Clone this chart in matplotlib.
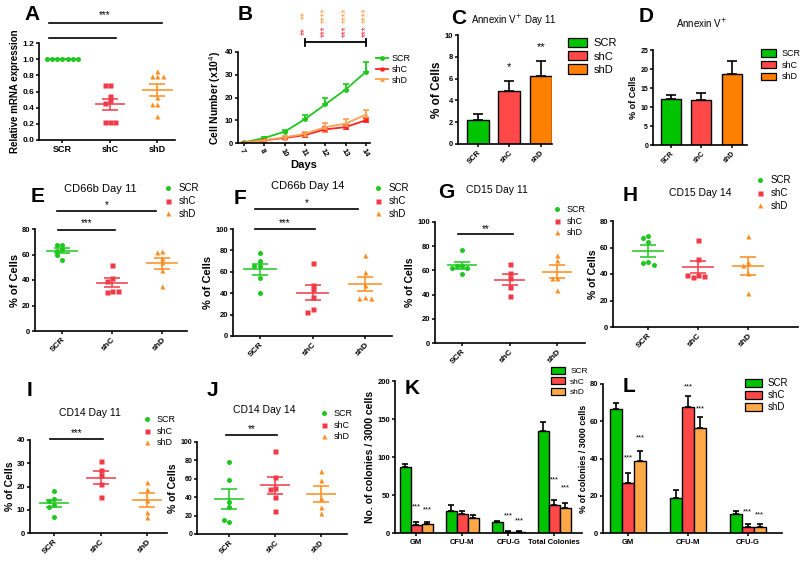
import numpy as np
import matplotlib
matplotlib.use("Agg")
import matplotlib.pyplot as plt
from matplotlib.patches import Patch
from matplotlib.lines import Line2D

plt.rcParams["font.family"] = ["Liberation Sans", "DejaVu Sans"]
plt.rcParams["font.weight"] = "normal"

# ============================================================
# Datos
# ============================================================
grupos = ["SCR", "shC", "shD"]

# A - expresion relativa de ARNm
a_scr = [1.0, 1.0, 1.0, 1.0, 1.0, 1.0, 1.0]
a_shc = [0.68, 0.68, 0.55, 0.50, 0.46, 0.22, 0.22, 0.22]
a_shd = [0.85, 0.79, 0.79, 0.79, 0.53, 0.45, 0.45, 0.30]

# B - curva de crecimiento
dias = ["7", "8", "10", "11", "12", "13", "14"]
b_scr = [0.3, 2.2, 5.0, 10.5, 17.0, 23.5, 31.3]
b_scr_err = [0.2, 0.3, 0.6, 1.6, 3.0, 2.5, 4.4]
b_shc = [0.2, 1.2, 2.2, 3.5, 6.0, 7.0, 10.0]
b_shc_err = [0.1, 0.2, 0.4, 0.7, 1.0, 0.9, 0.8]
b_shd = [0.2, 1.2, 2.5, 4.0, 7.0, 8.5, 12.5]
b_shd_err = [0.1, 0.2, 0.5, 1.0, 2.0, 2.0, 2.2]

# C y D - Annexin V
c_media = [2.2, 4.9, 6.2]
c_err = [0.55, 0.9, 1.45]
d_media = [12.0, 11.9, 18.6]
d_err = [1.1, 1.9, 3.6]

# E - CD66b dia 11
e_scr = [67.6, 67.6, 64.7, 62.6, 60.0, 55.8]
e_shc = [51.8, 41.8, 39.5, 31.6, 30.8, 31.6]
e_shd = [62.5, 62.0, 57.0, 54.0, 48.0, 35.0]

# F - CD66b dia 14
f_scr = [78.0, 70.5, 65.5, 65.5, 54.0, 40.4]
f_shc = [68.0, 47.6, 43.6, 36.7, 25.0, 22.3]
f_shd = [76.0, 60.0, 47.6, 36.7, 35.4, 35.4]

# G - CD15 dia 11
g_scr = [77.0, 64.0, 63.5, 62.0, 62.0, 57.0]
g_shc = [65.0, 58.0, 54.0, 46.0, 39.0]
g_shd = [73.0, 69.0, 54.0, 54.0, 44.0]

# H - CD15 dia 14
h_scr = [69.0, 67.0, 64.0, 49.0, 48.0, 47.0]
h_shc = [65.4, 51.3, 39.0, 37.7, 38.5, 39.5]
h_shd = [68.4, 49.0, 47.0, 40.7, 25.7]

# I - CD14 dia 11
i_scr = [18.0, 14.5, 13.8, 12.0, 11.2, 6.8]
i_shc = [30.9, 26.9, 24.9, 21.2, 15.3]
i_shd = [22.0, 19.1, 14.0, 9.0, 6.8]

# J - CD14 dia 14
j_scr = [78.0, 58.8, 34.3, 29.2, 13.4, 14.8]
j_shc = [90.6, 62.0, 50.5, 48.7, 40.4, 25.3]
j_shd = [68.6, 58.5, 39.4, 29.6, 23.1]

# K - colonias
k_cats = ["GM", "CFU-M", "CFU-G", "Total Colonies"]
k_scr = [86.7, 28.4, 14.4, 134.4]
k_scr_err = [4.4, 8.8, 1.0, 11.4]
k_shc = [10.5, 25.0, 1.5, 37.4]
k_shc_err = [3.5, 4.0, 0.6, 6.5]
k_shd = [12.0, 19.7, 1.5, 32.9]
k_shd_err = [2.0, 4.5, 0.6, 6.5]

# L - % de colonias
l_cats = ["GM", "CFU-M", "CFU-G"]
l_scr = [66.4, 18.7, 10.4]
l_scr_err = [3.6, 4.6, 1.4]
l_shc = [26.9, 67.8, 3.2]
l_shc_err = [5.4, 6.0, 1.5]
l_shd = [38.7, 56.3, 3.2]
l_shd_err = [5.2, 6.1, 1.5]

# ============================================================
# Estilo
# ============================================================
verde = "#1EC81E"
rojo = "#F03A48"
naranja = "#FF8C1E"
verde_bar = "#00C400"
rojo_bar = "#FF4848"
naranja_bar = "#FF8000"
naranja_claro = "#FFA848"
colores = [verde, rojo, naranja]
marcadores = ["o", "s", "^"]

W, H = 800, 561
fig = plt.figure(figsize=(8.0, 5.61), dpi=100)


def px(l, t, r, b):
    return [l / W, 1 - b / H, (r - l) / W, (b - t) / H]


def ft(x, y, s, **kw):
    kw.setdefault("ha", "center")
    kw.setdefault("va", "center")
    fig.text(x / W, 1 - y / H, s, **kw)


def estilo(ax, ylim, yticks, fs=5.5):
    for lado in ["top", "right"]:
        ax.spines[lado].set_visible(False)
    for lado in ["left", "bottom"]:
        ax.spines[lado].set_linewidth(1.2)
    ax.set_ylim(*ylim)
    ax.set_yticks(yticks)
    ax.tick_params(direction="out", length=2.5, width=1.1, labelsize=fs, pad=1)
    for t in ax.get_yticklabels():
        t.set_fontweight("bold")


def etiqueta_y(ax, txt, fs=7.5):
    ax.set_ylabel(txt, fontsize=fs, fontweight="bold", labelpad=1.5)


def dispersar(vals, tol, paso):
    offs = []
    orden = [0, -1, 1, -2, 2, -3, 3, -4, 4]
    for j, v in enumerate(vals):
        n = sum(1 for w in vals[:j] if abs(w - v) < tol)
        offs.append(orden[n] * paso)
    return np.array(offs)


def sig(ax, x1, x2, y, txt, ytxt, fs=7):
    ax.plot([x1, x2], [y, y], color="k", lw=1.2, clip_on=False)
    ax.text((x1 + x2) / 2, ytxt, txt, ha="center", va="center", fontsize=fs)


def panel_puntos(rect, datos, ylim, yticks, xlim, rot=45, fs=5.5, ms=3.6):
    ax = fig.add_axes(px(*rect))
    rango = ylim[1] - ylim[0]
    for i, vals in enumerate(datos):
        vals = list(vals)
        x = i + dispersar(vals, 0.035 * rango, 0.11)
        ax.plot(x, vals, ls="none", marker=marcadores[i], color=colores[i],
                ms=ms, mec="none", clip_on=False)
        m = np.mean(vals)
        sem = np.std(vals, ddof=1) / np.sqrt(len(vals))
        ax.plot([i - 0.3, i + 0.3], [m, m], color=colores[i], lw=1.3, alpha=0.85)
        ax.errorbar(i, m, yerr=sem, color=colores[i], capsize=6, lw=1.3,
                    capthick=1.3, fmt="none", alpha=0.85)
    ax.set_xlim(*xlim)
    ax.set_xticks(range(3))
    estilo(ax, ylim, yticks, fs)
    if rot:
        ax.set_xticklabels(grupos, rotation=rot, ha="right",
                           rotation_mode="anchor", fontweight="bold", fontsize=fs + 0.5)
    else:
        ax.set_xticklabels(grupos, fontweight="bold", fontsize=fs + 0.5)
    return ax


def leyenda_puntos(x, y, fs=7):
    manejadores = [Line2D([], [], ls="none", marker=marcadores[i], color=colores[i],
                          ms=3.6, mec="none") for i in range(3)]
    fig.legend(manejadores, grupos, loc="upper left",
               bbox_to_anchor=(x / W, 1 - y / H), frameon=False, fontsize=fs,
               handlelength=0.8, handletextpad=0.7, labelspacing=0.3,
               borderpad=0, borderaxespad=0)


def leyenda_barras(x, y, cols, fs=7, sp=0.3):
    manejadores = [Patch(facecolor=c, edgecolor="k", lw=0.9) for c in cols]
    fig.legend(manejadores, grupos, loc="upper left",
               bbox_to_anchor=(x / W, 1 - y / H), frameon=False, fontsize=fs,
               handlelength=1.7, handleheight=0.9, handletextpad=0.6,
               labelspacing=sp, borderpad=0, borderaxespad=0)


def barras_simples(rect, medias, errs, ylim, yticks, xlim, cols, ancho, fs=5.5):
    ax = fig.add_axes(px(*rect))
    x = np.arange(len(medias))
    ax.bar(x, medias, width=ancho, color=cols, edgecolor="k", lw=1.0, zorder=2)
    ax.errorbar(x, medias, yerr=[np.zeros(len(errs)), errs], fmt="none",
                ecolor="k", capsize=3.5, elinewidth=1.2, capthick=1.2, zorder=1)
    ax.set_xlim(*xlim)
    ax.set_xticks(x)
    ax.set_xticklabels(grupos, rotation=45, ha="right", rotation_mode="anchor",
                       fontweight="bold", fontsize=fs + 1)
    estilo(ax, ylim, yticks, fs)
    return ax


def barras_grupos(rect, series, errores, cats, ylim, yticks, xlim, cols, paso, fs=6.5):
    ax = fig.add_axes(px(*rect))
    x = np.arange(len(cats))
    for k, (s, e) in enumerate(zip(series, errores)):
        xs = x + (k - 1) * paso
        ax.bar(xs, s, width=paso, color=cols[k], edgecolor="k", lw=1.0, zorder=2)
        ax.errorbar(xs, s, yerr=[np.zeros(len(e)), e], fmt="none", ecolor="k",
                    capsize=2.5, elinewidth=1.2, capthick=1.2, zorder=1)
    ax.set_xlim(*xlim)
    ax.set_xticks(x)
    ax.set_xticklabels(cats, fontweight="bold", fontsize=fs)
    ax.tick_params(axis="x", length=0)
    estilo(ax, ylim, yticks, 5.5)
    ax.tick_params(axis="x", pad=2)
    return ax


# ============================================================
# A
# ============================================================
ax = panel_puntos((39, 43, 175, 140), [a_scr, a_shc, a_shd], (0, 1.2),
                  np.arange(0, 1.21, 0.2), (-0.49, 2.37), rot=0, fs=6)
ax.set_yticklabels([f"{v:.1f}" for v in np.arange(0, 1.21, 0.2)])
for t in ax.get_yticklabels():
    t.set_fontweight("bold")
ax.plot([-0.29, 2.1], [1.448, 1.448], color="k", lw=1.2, clip_on=False)
ax.plot([-0.29, 1.12], [1.262, 1.262], color="k", lw=1.2, clip_on=False)
ax.text(0.9, 1.55, "***", ha="center", va="center", fontsize=7)
etiqueta_y(ax, "Relative mRNA expression", fs=7)
ft(32, 15, "A", fontsize=15, fontweight="bold")

# ============================================================
# B
# ============================================================
ax = fig.add_axes(px(238, 52, 370, 143))
xd = np.arange(len(dias))
ax.errorbar(xd, b_scr, yerr=[np.zeros(7), b_scr_err], color=verde, marker="o",
            ms=3.5, lw=1.3, capsize=2.5, capthick=1.2, mec="none")
ax.errorbar(xd, b_shc, yerr=b_shc_err, color="#FF2020", marker="s",
            ms=3.2, lw=1.3, capsize=2.5, capthick=1.2, mec="none")
ax.errorbar(xd, b_shd, yerr=b_shd_err, color="#FFA050", marker="^",
            ms=3.5, lw=1.3, capsize=2.5, capthick=1.2, mec="none")
ax.set_xlim(-0.3, 6.2)
ax.set_xticks(xd)
ax.set_xticklabels(dias, rotation=-60, ha="left", rotation_mode="anchor",
                   fontweight="bold", fontsize=5.5)
estilo(ax, (0, 40), [0, 10, 20, 30, 40])
ax.set_xlabel("Days", fontsize=8, fontweight="bold", labelpad=1)
ax.plot([3, 6], [44.2, 44.2], color="k", lw=1.3, clip_on=False)
for xc in [3, 6]:
    ax.plot([xc, xc], [42.6, 45.8], color="k", lw=1.3, clip_on=False)
for k, d in enumerate([3, 4, 5, 6]):
    ax.text(d, 56, "**" if k == 0 else "****", rotation=90, ha="center",
            va="center", fontsize=7, color="#FF9A40")
    ax.text(d, 49, "**" if k == 0 else "***", rotation=90, ha="center",
            va="center", fontsize=7, color="#FF3040")
manejadores_b = [
    Line2D([], [], color=verde, marker="o", ms=3.5, lw=1.3, mec="none"),
    Line2D([], [], color="#FF2020", marker="s", ms=3.2, lw=1.3, mec="none"),
    Line2D([], [], color="#FFA050", marker="^", ms=3.5, lw=1.3, mec="none"),
]
fig.legend(manejadores_b, grupos, loc="upper left",
           bbox_to_anchor=(376 / W, 1 - 54 / H), frameon=False, fontsize=6.5,
           handlelength=1.3, handletextpad=0.4, labelspacing=0.2,
           borderpad=0, borderaxespad=0)
etiqueta_y(ax, "Cell Number (x10$^{4}$)", fs=7.5)
ft(245, 15, "B", fontsize=15, fontweight="bold")

# ============================================================
# C y D
# ============================================================
ax = barras_simples((458, 35, 552, 144), c_media, c_err, (0, 10), range(0, 11, 2),
                    (-0.63, 2.35), [verde_bar, rojo_bar, naranja_bar], 0.7)
ax.text(1, 7.1, "*", ha="center", va="center", fontsize=8)
ax.text(2, 8.9, "**", ha="center", va="center", fontsize=8)
leyenda_barras(568, 38, [verde_bar, rojo_bar, naranja_bar], fs=8, sp=0.25)
etiqueta_y(ax, "% of Cells", fs=8.5)
ft(514, 20, "Annexin V$^{+}$ Day 11", fontsize=7)
ft(459, 19, "C", fontsize=15, fontweight="bold")

ax = barras_simples((653, 50, 747, 145), d_media, d_err, (0, 25), range(0, 26, 5),
                    (-0.59, 2.5), [verde_bar, rojo_bar, naranja_bar], 0.66, fs=5)
leyenda_barras(761, 49, [verde_bar, rojo_bar, naranja_bar], fs=6.5, sp=0.3)
etiqueta_y(ax, "% of Cells", fs=6.5)
ft(702, 23, "Annexin V$^{+}$", fontsize=7)
ft(646, 17, "D", fontsize=15, fontweight="bold")

# ============================================================
# E y F - CD66b
# ============================================================
ax = panel_puntos((35, 229, 187, 331), [e_scr, e_shc, e_shd], (0, 80),
                  range(0, 81, 20), (-0.54, 2.5))
sig(ax, -0.08, 1.06, 79.5, "***", 84.7)
sig(ax, -0.1, 1.88, 94, "*", 99)
leyenda_puntos(164, 183)
etiqueta_y(ax, "% of Cells", fs=8)
ft(100, 189, "CD66b Day 11", fontsize=8)
ft(38, 196, "E", fontsize=15, fontweight="bold")

ax = panel_puntos((233, 229, 392, 336), [f_scr, f_shc, f_shd], (0, 100),
                  range(0, 101, 20), (-0.51, 2.51))
sig(ax, -0.1, 1.05, 100, "***", 105.6)
sig(ax, -0.1, 1.87, 118.7, "*", 124)
leyenda_puntos(374, 183)
etiqueta_y(ax, "% of Cells", fs=8)
ft(308, 186, "CD66b Day 14", fontsize=8)
ft(240, 198, "F", fontsize=15, fontweight="bold")

# ============================================================
# G y H - CD15
# ============================================================
ax = panel_puntos((435, 222, 585, 343), [g_scr, g_shc, g_shd], (0, 100),
                  range(0, 101, 20), (-0.57, 2.59))
sig(ax, -0.08, 1.07, 90, "**", 94)
leyenda_puntos(553, 205, fs=6.5)
etiqueta_y(ax, "% of Cells", fs=7.5)
ft(497, 190, "CD15 Day 11", fontsize=7.5)
ft(446, 192, "G", fontsize=15, fontweight="bold")

ax = panel_puntos((613, 221, 798, 327), [h_scr, h_shc, h_shd], (0, 80),
                  range(0, 81, 20), (-0.7, 3.0))
leyenda_puntos(756, 175, fs=7)
etiqueta_y(ax, "% of Cells", fs=7.5)
ft(700, 193, "CD15 Day 14", fontsize=7.5)
ft(630, 195, "H", fontsize=15, fontweight="bold")

# ============================================================
# I y J - CD14
# ============================================================
ax = panel_puntos((30, 440, 167, 533), [i_scr, i_shc, i_shd], (0, 40),
                  range(0, 41, 10), (-0.52, 2.43))
sig(ax, -0.09, 1.05, 40.4, "***", 43)
leyenda_puntos(143, 415, fs=6.5)
etiqueta_y(ax, "% of Cells", fs=7.5)
ft(90, 413, "CD14 Day 11", fontsize=7.5)
ft(30, 390, "I", fontsize=15, fontweight="bold")

ax = panel_puntos((197, 442, 347, 534), [j_scr, j_shc, j_shd], (0, 100),
                  range(0, 101, 20), (-0.7, 2.57), fs=5)
sig(ax, -0.07, 1.04, 107.6, "**", 114)
leyenda_puntos(320, 409, fs=6.5)
etiqueta_y(ax, "% of Cells", fs=7.5)
ft(264, 410, "CD14 Day 14", fontsize=7.5)
ft(212, 390, "J", fontsize=15, fontweight="bold")

# ============================================================
# K y L - colonias
# ============================================================
cols_kl = [verde_bar, rojo_bar, naranja_claro]
ax = barras_grupos((395, 381, 582, 533), [k_scr, k_shc, k_shd],
                   [k_scr_err, k_shc_err, k_shd_err], k_cats, (0, 200),
                   range(0, 201, 50), (-0.46, 3.6), cols_kl, 0.24)
for xc, yc in [(0, 35), (0.24, 31), (2, 23), (2.24, 16), (3, 70), (3.24, 60)]:
    ax.text(xc, yc, "***", ha="center", va="center", fontsize=5.5)
leyenda_barras(551, 367, cols_kl, fs=6, sp=0.25)
etiqueta_y(ax, "No. of colonies / 3000 cells", fs=7.5)
ft(412, 388, "K", fontsize=15, fontweight="bold")

ax = barras_grupos((603, 384, 782, 533), [l_scr, l_shc, l_shd],
                   [l_scr_err, l_shc_err, l_shd_err], l_cats, (0, 80),
                   range(0, 81, 20), (-0.42, 2.57), cols_kl, 0.2)
for xc, yc in [(0, 40.5), (0.2, 50.8), (1, 78.5), (1.2, 66.4), (2, 11.3), (2.2, 9.5)]:
    ax.text(xc, yc, "***", ha="center", va="center", fontsize=5.5)
leyenda_barras(745, 378, cols_kl, fs=7, sp=0.2)
etiqueta_y(ax, "% of colonies / 3000 cells", fs=6.5)
ft(629, 387, "L", fontsize=15, fontweight="bold")

fig.savefig("out.png", dpi=100)
